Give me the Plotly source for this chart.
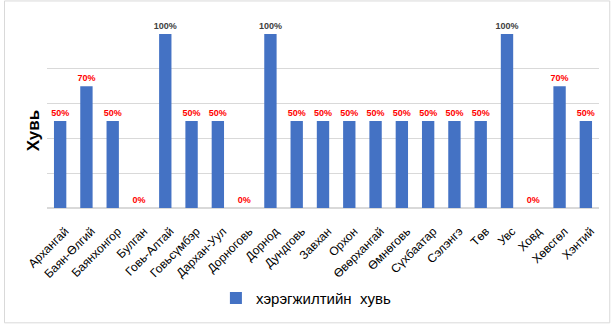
import plotly.graph_objects as go

categories = ["Архангай", "Баян-Өлгий", "Баянхонгор", "Булган", "Говь-Алтай", "Говьсүмбэр",
              "Дархан-Уул", "Дорноговь", "Дорнод", "Дундговь", "Завхан", "Орхон", "Өвөрхангай",
              "Өмнөговь", "Сүхбаатар", "Сэлэнгэ", "Төв", "Увс", "Ховд", "Хөвсгөл", "Хэнтий"]
values = [0.5, 0.7, 0.5, 0.0, 1.0, 0.5, 0.5, 0.0, 1.0, 0.5, 0.5, 0.5, 0.5, 0.5, 0.5, 0.5, 0.5, 1.0, 0.0, 0.7, 0.5]
series_name = "хэрэгжилтийн\u00a0 хувь"
y_title = "Хувь"

labels = [f"{round(v*100)}%" for v in values]
label_colors = ["#404040" if v >= 1.0 else "#ff0000" for v in values]

fig = go.Figure()
fig.add_trace(go.Bar(
    x=categories, y=values, name=series_name,
    marker=dict(color="#4472c4", line=dict(width=0)),
    width=0.47,
    text=labels, textposition="outside", cliponaxis=False, constraintext="none",
    textfont=dict(family="Arial", size=9, color=label_colors, weight="bold"),
    showlegend=True,
))

fig.update_layout(
    width=611, height=325,
    margin=dict(l=47, r=12, t=34, b=116),
    paper_bgcolor="white", plot_bgcolor="white",
    font=dict(family="Arial", color="#000000"),
    yaxis=dict(range=[0, 1], dtick=0.2, showticklabels=False, showgrid=True,
               gridcolor="#d9d9d9", gridwidth=1, zeroline=True, zerolinecolor="#d9d9d9"),
    xaxis=dict(tickangle=-45, tickfont=dict(size=12, family="Arial"), showline=False,
               ticks="", ticklabelstandoff=13, ticklabelshift=5),
    legend=dict(orientation="h", x=0.306, xanchor="left", y=-0.51, yanchor="middle",
                font=dict(size=15, family="Arial"), itemwidth=30),
    annotations=[dict(text=f"<b>{y_title}</b>", xref="paper", yref="paper",
                      x=-0.024, y=0.445, xanchor="center", yanchor="middle",
                      textangle=-90, showarrow=False, font=dict(size=17, family="Arial"))],
    shapes=[dict(type="rect", xref="paper", yref="paper", x0=-0.077, x1=1.0195, y0=-0.66, y1=1.19,
                 line=dict(color="#d9d9d9", width=1))],
)
fig.write_html("out.html")
